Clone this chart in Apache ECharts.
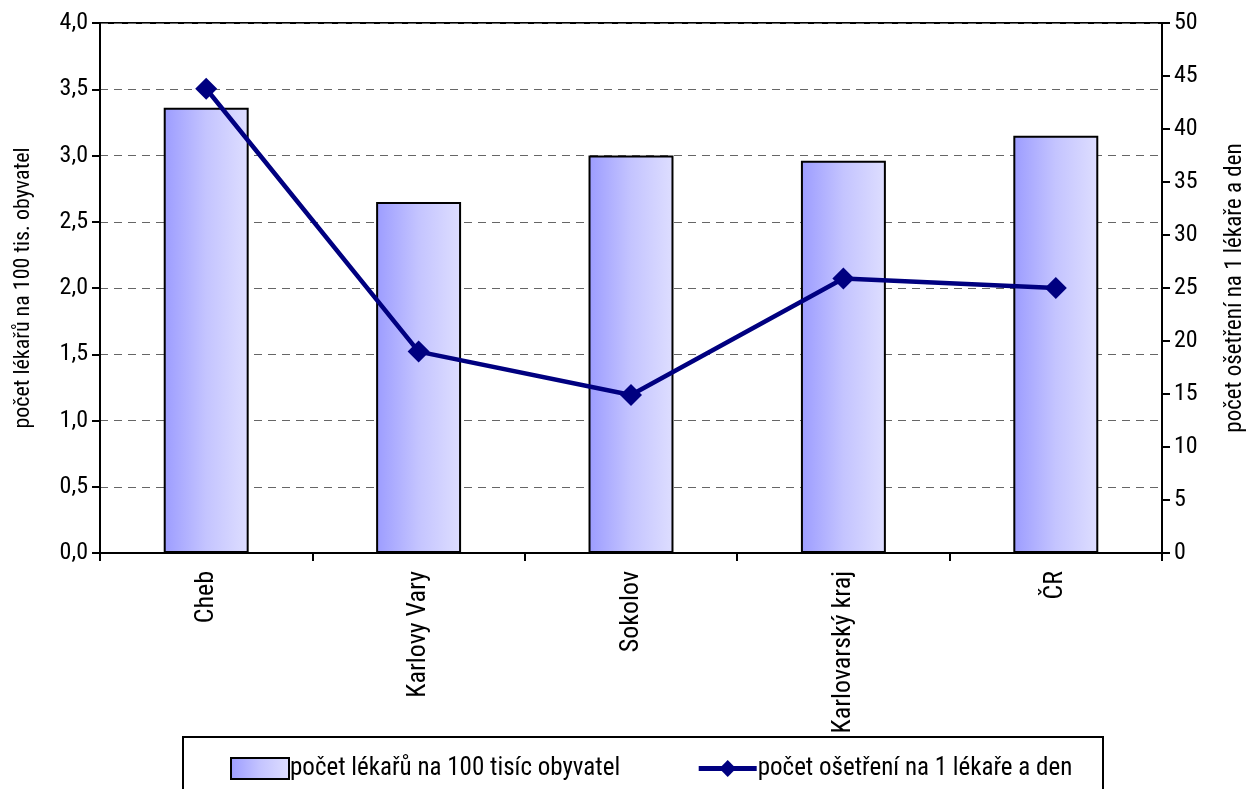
<!DOCTYPE html>
<html><head><meta charset="utf-8">
<script src="https://cdn.jsdelivr.net/npm/echarts@6/dist/echarts.min.js"></script>
<style>html,body{margin:0;padding:0;background:#fff}#c{width:1255px;height:789px}</style>
</head><body><div id="c"></div>
<script>
const categories = ['Cheb', 'Karlovy Vary', 'Sokolov', 'Karlovarský kraj', 'ČR'];
const doctorsPer100k = [3.36, 2.65, 3.0, 2.96, 3.15];
const visitsPerDoctorDay = [43.8, 19.0, 14.9, 25.9, 25.0];
const barName = 'počet lékařů na 100 tisíc obyvatel';
const lineName = 'počet ošetření na 1 lékaře a den';
const leftAxisName = 'počet lékařů na 100 tis. obyvatel';
const rightAxisName = 'počet ošetření na 1 lékaře a den';

const FONT = '"Liberation Sans Narrow", "Arial Narrow", "Roboto Condensed", "Liberation Sans", sans-serif';
const chart = echarts.init(document.getElementById('c'));
chart.setOption({
  backgroundColor: '#fff',
  textStyle: { fontFamily: FONT },
  animation: false,
  grid: { left: 100, right: 92, top: 23, bottom: 236, show: true, borderColor: '#000', borderWidth: 2, containLabel: false },
  graphic: [{
    type: 'rect', shape: { x: 183, y: 737, width: 920, height: 70 },
    style: { fill: 'none', stroke: '#000', lineWidth: 2 }, z: 0
  }],
  legend: {
    left: 225, top: 751, itemGap: 76, itemWidth: 58, itemHeight: 21,
    textStyle: { fontFamily: FONT, fontSize: 25, color: '#000', padding: [0, 0, 0, -4] },
    data: [
      { name: barName, icon: 'rect' },
      { name: lineName, lineStyle: { width: 5, color: '#000080' } }
    ]
  },
  xAxis: {
    type: 'category', data: categories,
    axisLine: { lineStyle: { color: '#000', width: 2 } },
    axisTick: { show: true, length: 8, lineStyle: { color: '#000', width: 2 } },
    axisLabel: { rotate: 90, color: '#000', fontSize: 26, fontFamily: FONT, margin: 18 }
  },
  yAxis: [{
    type: 'value', min: 0, max: 4, interval: 0.5, position: 'left',
    name: leftAxisName, nameLocation: 'middle', nameGap: 66, nameRotate: 90,
    nameTextStyle: { color: '#000', fontSize: 22, fontFamily: FONT },
    axisLine: { show: true, lineStyle: { color: '#000', width: 2 } },
    axisTick: { show: true, length: 8, lineStyle: { color: '#000', width: 2 } },
    axisLabel: { color: '#000', fontSize: 24, fontFamily: FONT, margin: 12,
      formatter: v => v.toFixed(1).replace('.', ',') },
    splitLine: { show: true, lineStyle: { color: '#666', type: [8, 6], width: 1 } }
  }, {
    type: 'value', min: 0, max: 50, interval: 5, position: 'right',
    name: rightAxisName, nameLocation: 'middle', nameGap: 62, nameRotate: 90,
    nameTextStyle: { color: '#000', fontSize: 23, fontFamily: FONT },
    axisLine: { show: true, lineStyle: { color: '#000', width: 2 } },
    axisTick: { show: true, length: 8, lineStyle: { color: '#000', width: 2 } },
    axisLabel: { color: '#000', fontSize: 24, fontFamily: FONT, margin: 12 },
    splitLine: { show: false }
  }],
  series: [{
    name: barName, type: 'bar', data: doctorsPer100k, yAxisIndex: 0, barWidth: '40%',
    itemStyle: {
      color: new echarts.graphic.LinearGradient(0, 0, 1, 0, [
        { offset: 0, color: '#9c9cff' },
        { offset: 0.5, color: '#c4c4ff' },
        { offset: 1, color: '#dedeff' }
      ]),
      borderColor: '#000', borderWidth: 2
    }
  }, {
    name: lineName, type: 'line', data: visitsPerDoctorDay, yAxisIndex: 1,
    symbol: 'diamond', symbolSize: 22,
    lineStyle: { color: '#000080', width: 4.5 },
    itemStyle: { color: '#000080' }
  }]
});
</script></body></html>
